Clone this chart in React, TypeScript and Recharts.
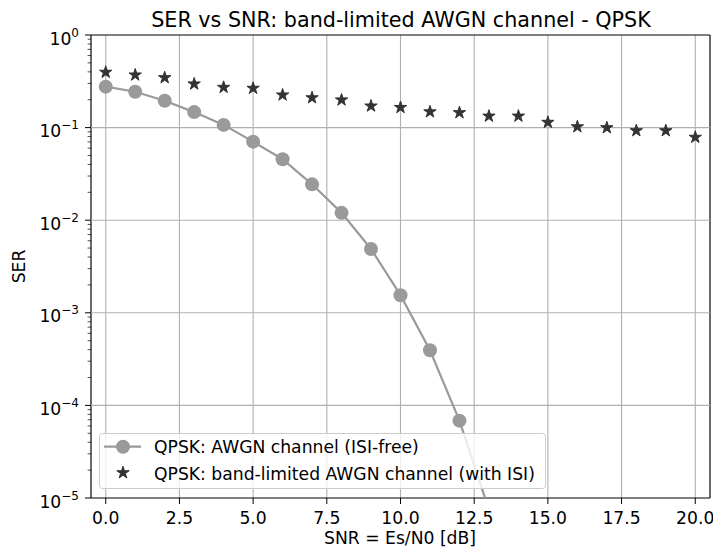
import React from 'react';
import { ComposedChart, Line, XAxis, YAxis, CartesianGrid, ReferenceLine, ReferenceArea } from 'recharts';

const snr = [0, 1, 2, 3, 4, 5, 6, 7, 8, 9, 10, 11, 12, 13, 14, 15, 16, 17, 18, 19, 20];
const serAwgn = [0.277, 0.244, 0.195, 0.147, 0.107, 0.0705, 0.0455, 0.0244, 0.012, 0.00489, 0.00155, 0.000394, 0.0000684, 0.0000075];
const serIsi = [0.396, 0.37, 0.346, 0.296, 0.272, 0.266, 0.225, 0.21, 0.199, 0.171, 0.165, 0.148, 0.145, 0.133, 0.133, 0.114, 0.102, 0.0997, 0.0926, 0.0926, 0.0786];
const xTicks = [0, 2.5, 5, 7.5, 10, 12.5, 15, 17.5, 20];
const yMajor = [1e-5, 1e-4, 1e-3, 1e-2, 1e-1, 1];
const yMinorMult = [2, 3, 4, 5, 6, 7, 8, 9];

const title = 'SER vs SNR: band-limited AWGN channel - QPSK';
const xLabel = 'SNR = Es/N0 [dB]';
const yLabel = 'SER';
const nameAwgn = 'QPSK: AWGN channel (ISI-free)';
const nameIsi = 'QPSK: band-limited AWGN channel (with ISI)';

const FONT = 'DejaVu Sans, sans-serif';
const FS = 17.2;
const GRAY = '#9a9a9a';
const DARK = '#333333';

const data = snr.map((s, i) => ({
  snr: s,
  awgn: i < serAwgn.length ? serAwgn[i] : undefined,
  isi: serIsi[i],
}));

const yTicks: number[] = [];
yMajor.forEach((m, i) => {
  yTicks.push(m);
  if (i < yMajor.length - 1) yMinorMult.forEach((k) => yTicks.push(+(k * m).toPrecision(3)));
});

function starPath(cx: number, cy: number, R: number) {
  const r = R * 0.381966;
  let d = '';
  for (let i = 0; i < 10; i++) {
    const a = -Math.PI / 2 + (i * Math.PI) / 5;
    const rr = i % 2 === 0 ? R : r;
    d += (i === 0 ? 'M' : 'L') + (cx + rr * Math.cos(a)).toFixed(2) + ',' + (cy + rr * Math.sin(a)).toFixed(2);
  }
  return d + 'Z';
}

const CircleDot = (p: any) => {
  if (p.cx == null || p.cy == null || p.value == null) return <g key={p.key} />;
  return <circle key={p.key} cx={p.cx} cy={p.cy} r={7} fill={GRAY} stroke="none" />;
};

const StarDot = (p: any) => {
  if (p.cx == null || p.cy == null) return <g key={p.key} />;
  return <path key={p.key} d={starPath(p.cx, p.cy, 6.5)} fill={DARK} stroke={DARK} strokeWidth={1} />;
};

const YTick = (p: any) => {
  const { x, y, payload } = p;
  const v = payload.value;
  const lg = Math.log10(v);
  const e = Math.round(lg);
  const major = Math.abs(lg - e) < 1e-6;
  return (
    <g>
      <line x1={x} x2={x - (major ? 6 : 3.4)} y1={y} y2={y} stroke="#000" strokeWidth={major ? 1 : 0.7} />
      {major && (
        <text x={x - 12} y={y + 9.5} textAnchor="end" fontSize={FS} fill="#000" fontFamily={FONT}>
          <tspan>10</tspan>
          <tspan dy={-8} fontSize={12}>{e === 0 ? '0' : '\u2212' + -e}</tspan>
        </text>
      )}
    </g>
  );
};

export default function App() {
  return (
    <div style={{ position: 'absolute', left: 0, top: 0, width: 713, height: 554, background: '#fff' }}>
      <ComposedChart width={713} height={554} data={data} margin={{ top: 35, right: 3, bottom: 0, left: 0 }}>
        <CartesianGrid horizontal={false} vertical={true} stroke="#b0b0b0" strokeWidth={1.1} />
        {yMajor.slice(1, -1).map((v) => (
          <ReferenceLine key={v} y={v} stroke="#b0b0b0" strokeWidth={1.1} />
        ))}
        <XAxis
          dataKey="snr"
          type="number"
          domain={[-0.5, 20.5]}
          ticks={xTicks}
          tickFormatter={(v: number) => v.toFixed(1)}
          allowDataOverflow
          height={56}
          axisLine={false}
          tickLine={{ stroke: '#000', strokeWidth: 1 }}
          tickSize={6}
          tickMargin={8}
          tick={{ fill: '#000', fontSize: FS, fontFamily: FONT }}
          interval={0}
        />
        <YAxis
          type="number"
          scale="log"
          domain={[1e-5, 1]}
          allowDataOverflow
          ticks={yTicks}
          width={91}
          axisLine={false}
          tickLine={false}
          tickSize={0}
          tickMargin={0}
          tick={<YTick />}
          interval={0}
        />
        <Line
          dataKey="awgn"
          type="linear"
          stroke={GRAY}
          strokeWidth={2.2}
          dot={<CircleDot />}
          activeDot={false}
          isAnimationActive={false}
          connectNulls={false}
        />
        <Line
          dataKey="isi"
          type="linear"
          stroke="none"
          strokeWidth={0}
          dot={<StarDot />}
          activeDot={false}
          isAnimationActive={false}
        />
        <ReferenceArea x1={-0.5} x2={20.5} y1={1e-5} y2={1} fill="none" stroke="#000" strokeWidth={1} ifOverflow="visible" />
      </ComposedChart>
      <svg width={713} height={554} style={{ position: 'absolute', left: 0, top: 0, pointerEvents: 'none' }}>
        <text x={401} y={26.7} textAnchor="middle" fontSize={20.7} fill="#000" fontFamily={FONT}>{title}</text>
        <text x={400} y={543.5} textAnchor="middle" fontSize={FS} fill="#000" fontFamily={FONT}>{xLabel}</text>
        <text x={25} y={266.5} textAnchor="middle" fontSize={FS} fill="#000" fontFamily={FONT} transform="rotate(-90 25 266.5)">{yLabel}</text>
        <g transform="translate(99,433)">
          <rect x={0.5} y={0.5} width={446} height={55} rx={3} ry={3} fill="#fff" fillOpacity={0.8} stroke="#cccccc" strokeWidth={1} />
          <line x1={5} x2={42} y1={13.7} y2={13.7} stroke={GRAY} strokeWidth={2.2} />
          <circle cx={24} cy={13.7} r={7} fill={GRAY} />
          <text x={55} y={20.3} fontSize={FS} fill="#000" fontFamily={FONT}>{nameAwgn}</text>
          <path d={starPath(24, 39.7, 6.5)} fill={DARK} stroke={DARK} strokeWidth={1} />
          <text x={55} y={46.7} fontSize={FS} fill="#000" fontFamily={FONT}>{nameIsi}</text>
        </g>
      </svg>
    </div>
  );
}
